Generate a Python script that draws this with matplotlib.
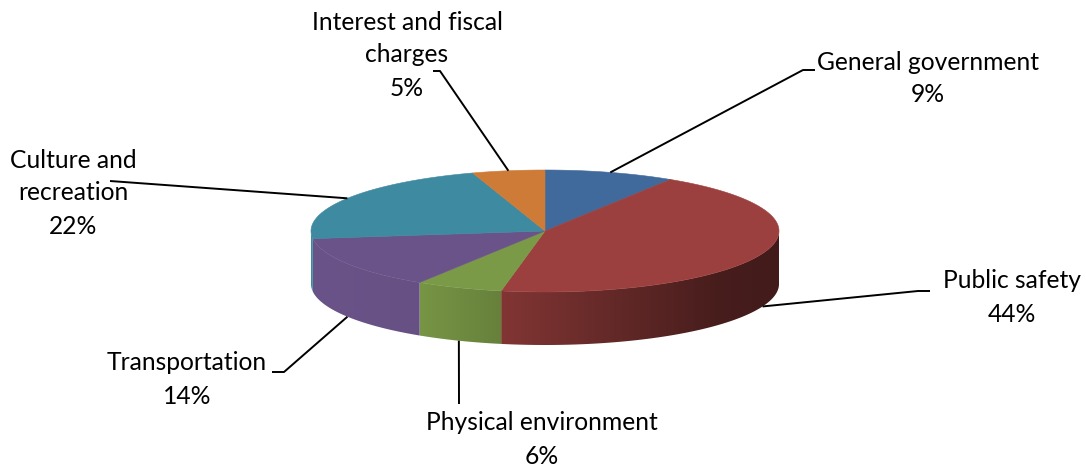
"""3D-style pie chart of expenses by function (Excel look-alike)."""

import numpy as np
import matplotlib
matplotlib.use("Agg")
import matplotlib.pyplot as plt
from matplotlib.colors import to_rgb

# Data:
categories = ["General government", "Public safety", "Physical environment",
              "Transportation", "Culture and recreation", "Interest and fiscal charges"]
shares = [9, 44, 6, 14, 22, 5]
# Label text as wrapped in the chart:
label_lines = [["General government"], ["Public safety"], ["Physical environment"],
               ["Transportation"], ["Culture and", "recreation"], ["Interest and fiscal", "charges"]]
colors = ["#416A9C", "#9B403E", "#7B9A47", "#6A5388", "#3E8AA1", "#CD7B37"]

# Layout (pixels): label centre (x, y of first line), elbow of the leader, end of the leader
label_pos = [(928, 62), (1012, 281), (542, 423), (187, 363), (73, 160), (407, 22)]
leader_elbow = [(803, 70), (918, 291), (459, 404), (284, 372), (110, 181), (440, 71)]
leader_end = [(815, 70), (930, 291), (459, 404), (272, 372), (110, 181), (433, 71)]

W, H = 1086, 469
CX, CY = 545, 231      # centre of the top face
RA, RB = 234, 61       # ellipse half axes
DEPTH = 53             # thickness of the pie
LINE_H = 33            # label line spacing

# Brightness of the side wall from left to right of the pie:
SHADE_T = [0.0, 0.23, 0.40, 0.72, 0.87, 1.0]
SHADE_F = [1.0, 0.97, 0.84, 0.58, 0.46, 0.42]


def ell(theta_deg, dy=0.0):
    """Point(s) on the top ellipse for angle(s) in degrees (screen coords, y down)."""
    t = np.radians(theta_deg)
    return CX + RA * np.cos(t), CY - RB * np.sin(t) + dy


fig = plt.figure(figsize=(W / 100, H / 100), dpi=100)
ax = fig.add_axes([0, 0, 1, 1])
ax.set_xlim(0, W)
ax.set_ylim(H, 0)
ax.axis("off")

plt.rcParams["font.family"] = ["Lato", "DejaVu Sans"]

total = float(sum(shares))
cum = np.concatenate([[0], np.cumsum(shares)]) / total
# Angles: start at 12 o'clock, go clockwise
starts = 90 - 360 * cum[:-1]
ends = 90 - 360 * cum[1:]

# Horizontal gradient used for the side walls
gx = np.linspace(0, 1, 600)
gf = np.interp(gx, SHADE_T, SHADE_F)

# Side walls (only the front half is visible: angles between -180 and 0)
for i in range(len(shares)):
    lo = max(ends[i], -180)
    hi = min(starts[i], 0)
    if lo >= hi:
        continue
    angs = np.linspace(lo, hi, 200)
    xs, ys = ell(angs)
    verts = list(zip(xs, ys)) + list(zip(xs[::-1], ys[::-1] + DEPTH))
    poly = plt.Polygon(verts, closed=True, facecolor="none", edgecolor="none")
    ax.add_patch(poly)
    img = np.array(to_rgb(colors[i]))[None, None, :] * gf[None, :, None]
    im = ax.imshow(np.clip(img, 0, 1), extent=[CX - RA, CX + RA, CY + RB + DEPTH + 2, CY - 2],
                   aspect="auto", interpolation="bilinear", zorder=1)
    im.set_clip_path(poly)

# Top faces
for i in range(len(shares)):
    angs = np.linspace(starts[i], ends[i], 200)
    xs, ys = ell(angs)
    verts = [(CX, CY)] + list(zip(xs, ys))
    ax.add_patch(plt.Polygon(verts, closed=True, facecolor=colors[i],
                             edgecolor=colors[i], linewidth=0.4, zorder=2))

# Labels and leader lines
for i in range(len(shares)):
    mid = 0.5 * (starts[i] + ends[i])
    px, py = ell(mid)
    if np.sin(np.radians(mid)) < 0:
        py += DEPTH  # front slices: anchor on the bottom rim
    ex, ey = leader_elbow[i]
    tx, ty = leader_end[i]
    ax.plot([px, ex, tx], [py, ey, ty], color="black", lw=1.4, zorder=3,
            solid_capstyle="butt")
    lines = label_lines[i] + [f"{shares[i] / total * 100:.0f}%"]
    lx, ly = label_pos[i]
    for k, s in enumerate(lines):
        ax.text(lx, ly + k * LINE_H, s, ha="center", va="center",
                fontsize=17.7, color="black", zorder=4)

ax.set_xlim(0, W)
ax.set_ylim(H, 0)
plt.savefig("out.png", dpi=100, facecolor="white")
